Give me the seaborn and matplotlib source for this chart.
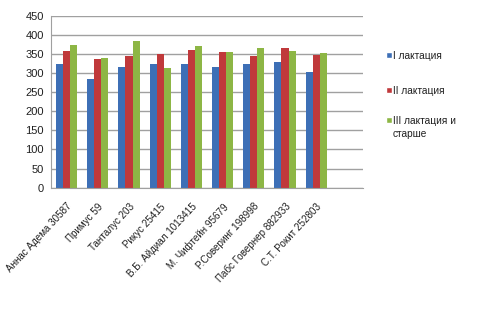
import numpy as np
import pandas as pd
import seaborn as sns
from matplotlib import pyplot as plt
from matplotlib.patches import Rectangle

# bulls (last slot is empty in the original chart)
bulls = ["Аннас Адема 30587", "Примус 59", "Танталус 203", "Рикус 25415",
         "В.Б. Айдиал 1013415", "М. Чифтейн 95679", "Р.Соверинг 198998",
         "Пабс Говернер 882933", "С.Т. Рокит 252803", ""]
lact_1 = [325, 285, 316, 325, 325, 316, 325, 328, 303, np.nan]
lact_2 = [358, 337, 345, 350, 360, 355, 345, 365, 348, np.nan]
lact_3 = [375, 340, 385, 313, 370, 355, 365, 358, 353, np.nan]
series = ["I лактация", "II лактация", "III лактация и\nстарше"]
colors = ["#3D6FB6", "#C0393B", "#8DB645"]

df = pd.DataFrame({"bull": bulls * 3,
                   "value": lact_1 + lact_2 + lact_3,
                   "series": [s for s in series for _ in bulls]})

sns.set_style("white")
plt.rcParams['font.family'] = ['Liberation Sans', 'DejaVu Sans']

fig = plt.figure(figsize=(5.0, 3.19), dpi=100)
ax = fig.add_axes([0.102, 0.412, 0.624, 0.538])

sns.barplot(data=df, x="bull", y="value", hue="series", order=bulls,
            hue_order=series, palette=colors, width=0.68, saturation=1,
            linewidth=0, legend=False, ax=ax)

ax.set_ylim(0, 450)
ax.set_yticks(np.arange(0, 451, 50))
ax.set_xlim(-0.5, len(bulls) - 0.5)
ax.yaxis.grid(True, color="#a0a0a0", lw=1)
ax.set_axisbelow(True)
ax.set_xlabel("")
ax.set_ylabel("")
for s in ["top", "right"]:
    ax.spines[s].set_visible(False)
for s in ["left", "bottom"]:
    ax.spines[s].set_color("#a0a0a0")

# labels at centers, tick marks at category boundaries
ax.set_xticks(range(len(bulls)))
ax.set_xticklabels(bulls, rotation=47, ha="right", rotation_mode="anchor",
                   fontsize=7.1, color="#202020")
ax.tick_params(axis="x", length=0, pad=10)
ax.set_xticks(np.arange(-0.5, len(bulls)), minor=True)
ax.tick_params(axis="x", which="minor", length=4, color="#a0a0a0")
ax.tick_params(axis="y", length=3, color="#a0a0a0", labelsize=8,
               labelcolor="#202020", pad=2)

# legend drawn by hand, Excel style (marker on the first text line)
leg_y = [55, 90, 120]
for c, s, y in zip(colors, series, leg_y):
    fy = 1 - y / 319
    fig.patches.append(Rectangle((386 / 500, fy - 3 / 319), 6 / 500, 6 / 319,
                                 facecolor=c, transform=fig.transFigure))
    fig.text(393 / 500, fy + 4 / 319, s, fontsize=7.3, color="#202020",
             va="top", ha="left", linespacing=1.35)

fig.savefig("out.png", dpi=100)
